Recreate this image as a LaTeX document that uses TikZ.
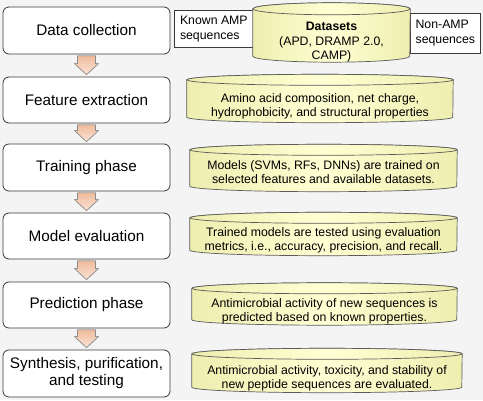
\documentclass[tikz,border=0pt]{standalone}
\usepackage{fontspec}
\setmainfont{Liberation Sans}
\usetikzlibrary{calc}
\definecolor{bgc}{HTML}{F4F4F4}
\definecolor{boxline}{HTML}{3A3A3A}
\definecolor{cylline}{HTML}{5A5A5A}
\definecolor{cylmid}{HTML}{FFFFD4}
\definecolor{cyledge}{HTML}{EEEEB0}
\definecolor{arrtop}{HTML}{EFBC9C}
\definecolor{arrbot}{HTML}{FBE3D6}
\definecolor{arrline}{HTML}{8A8A8A}
\tikzset{
  stepbox/.style={draw=boxline, line width=0.8pt, fill=white, rounded corners=6pt,
    minimum width=167pt, align=center, inner sep=0pt,
    font=\fontsize{15.3}{17}\selectfont},
  sidebox/.style={draw=boxline, line width=0.7pt, fill=white, align=left, inner sep=0pt,
    anchor=north west, font=\fontsize{12.3}{15}\selectfont},
  cylbody/.style={inner sep=0pt},
  cyltext/.style={align=center, inner sep=0pt, font=\fontsize{12.3}{14}\selectfont},
  cylfill/.style={draw=cylline, line width=0.7pt, left color=cyledge, right color=cyledge, middle color=cylmid},
  arrowst/.style={draw=arrline, line width=0.6pt, top color=arrtop, bottom color=arrbot},
}
% cylinder outline around a body node: #1 name, #2 x radius, #3 y radius
\newcommand\drawcyl[3]{%
  \draw[cylfill] (#1.north west) -- (#1.south west)
    arc[start angle=180, end angle=360, x radius=#2, y radius=#3]
    -- (#1.north east)
    arc[start angle=0, end angle=180, x radius=#2, y radius=#3] -- cycle;
  \draw[cylfill] (#1.north) ellipse[x radius=#2, y radius=#3];
}
% block arrow from node #1 to node #2
\newcommand\blockarrow[2]{%
  \filldraw[arrowst] let \p1=($(#1.south)+(0,-1.5)$), \p2=($(#2.north)+(0,2)$) in
    (\x1-9pt,\y1) -- (\x1+9pt,\y1) -- (\x1+9pt,\y2+11pt) -- (\x1+12pt,\y2+11pt)
    -- (\x1,\y2) -- (\x1-12pt,\y2+11pt) -- (\x1-9pt,\y2+11pt) -- cycle;
}
\begin{document}
\begin{tikzpicture}[x=1pt,y=1pt]
\fill[bgc] (0,0) rectangle (483,400);
\useasboundingbox (0,0) rectangle (483,400);

% left step boxes
\node[stepbox, minimum height=47pt] (s1) at (86.5,369.5) {Data collection};
\node[stepbox, minimum height=46pt] (s2) at (86.5,300) {Feature extraction};
\node[stepbox, minimum height=47pt] (s3) at (86.5,232.5) {Training phase};
\node[stepbox, minimum height=46pt] (s4) at (86.5,164) {Model evaluation};
\node[stepbox, minimum height=46pt] (s5) at (86.5,95) {Prediction phase};
\node[stepbox, minimum height=47pt] (s6) at (86.5,26.5) {Synthesis, purification,\\and testing};

% arrows
\blockarrow{s1}{s2}
\blockarrow{s2}{s3}
\blockarrow{s3}{s4}
\blockarrow{s4}{s5}
\blockarrow{s5}{s6}

% side boxes of the datasets
\node[sidebox, minimum width=79pt, minimum height=37pt, inner xsep=0pt] (known) at (174,390)
  {Known AMP\\sequences};
\node[sidebox, minimum width=70pt, minimum height=40pt] (non) at (410,387)
  {Non-AMP\\sequences};

% datasets cylinder
\node[cylbody, minimum width=157pt, minimum height=47pt] (ds) at (331.5,367.5) {};
\drawcyl{ds}{78.5pt}{6pt}
\node[cyltext, font=\fontsize{12.3}{14.5}\selectfont] (dst) at ($(ds.center)+(0,-10)$)
  {\textbf{Datasets}\\(APD, DRAMP 2.0,\\CAMP)};

% feature cylinder
\node[cylbody, minimum width=266pt, minimum height=37pt] (c2) at (320,301.5) {};
\drawcyl{c2}{133pt}{5.5pt}
\node[cyltext] (t2) at ($(c2.center)+(0,-8)$)
  {Amino acid composition, net charge,\\hydrophobicity, and structural properties};

% training cylinder
\node[cylbody, minimum width=267pt, minimum height=36pt] (c3) at (323.5,232) {};
\drawcyl{c3}{133.5pt}{5.5pt}
\node[cyltext] (t3) at ($(c3.center)+(0,-4.5)$)
  {Models (SVMs, RFs, DNNs) are trained on\\selected features and available datasets.};

% evaluation cylinder
\node[cylbody, minimum width=267pt, minimum height=32pt] (c4) at (323.5,166) {};
\drawcyl{c4}{133.5pt}{5.5pt}
\node[cyltext] (t4) at ($(c4.center)+(0,-6)$)
  {Trained models are tested using evaluation\\metrics, i.e., accuracy, precision, and recall.};

% prediction cylinder
\node[cylbody, minimum width=265pt, minimum height=31pt] (c5) at (324.5,96) {};
\drawcyl{c5}{132.5pt}{5.5pt}
\node[cyltext] (t5) at ($(c5.center)+(0,-7.5)$)
  {Antimicrobial activity of new sequences is\\predicted based on known properties.};

% synthesis cylinder
\node[cylbody, minimum width=270pt, minimum height=33pt] (c6) at (327,29.5) {};
\drawcyl{c6}{135pt}{5.5pt}
\node[cyltext] (t6) at ($(c6.center)+(0,-8)$)
  {Antimicrobial activity, toxicity, and stability of\\new peptide sequences are evaluated.};
\end{tikzpicture}
\end{document}
